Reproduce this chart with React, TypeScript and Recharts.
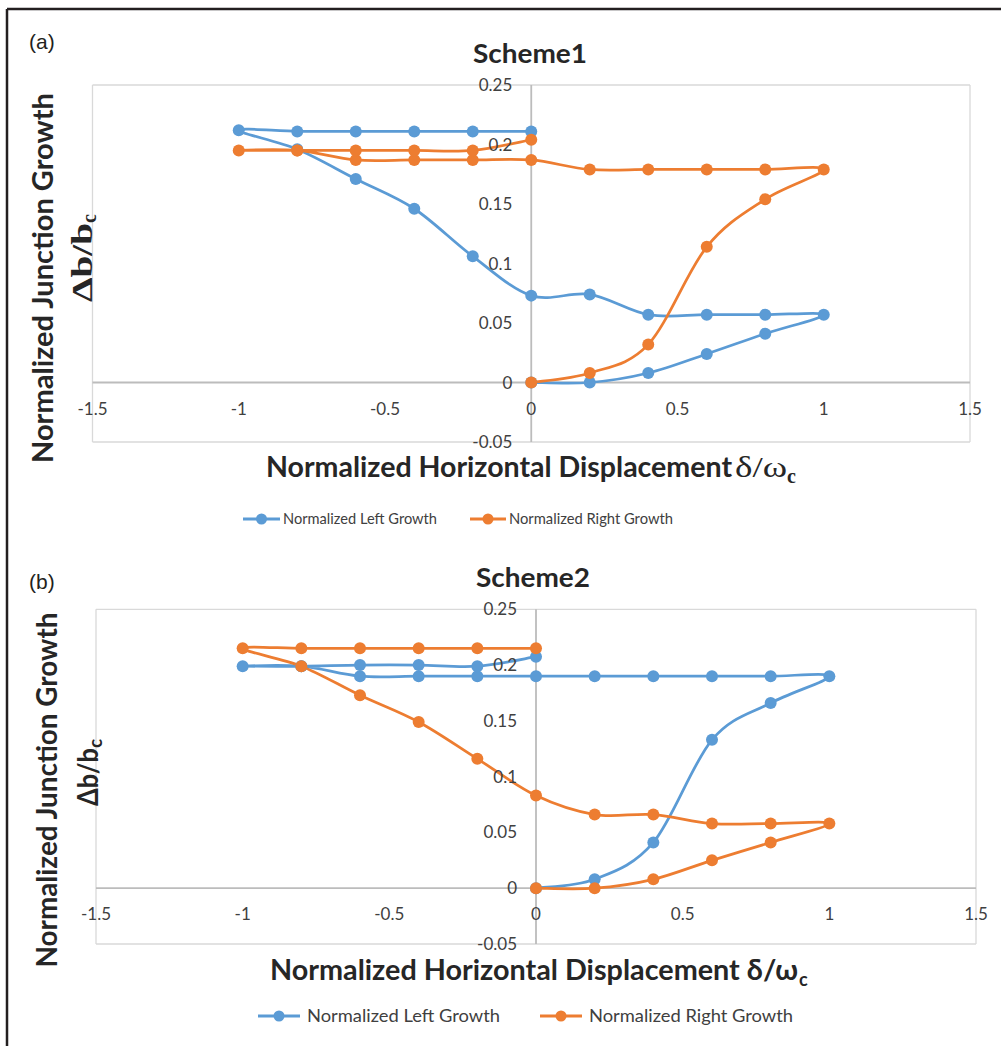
import React from 'react';
import {
  LineChart,
  Line,
  XAxis,
  YAxis,
  CartesianGrid,
  ReferenceLine,
  ReferenceDot,
  Legend,
} from 'recharts';

// ---------------- DATA ----------------
// loading path of the normalized horizontal displacement (0 -> 1 -> 0 -> -1 -> 0)
const displacement = [0, 0.2, 0.4, 0.6, 0.8, 1, 0.8, 0.6, 0.4, 0.2, 0, -0.2, -0.4, -0.6, -0.8, -1, -0.8, -0.6, -0.4, -0.2, 0];

const scheme1Left = [0, 0, 0.008, 0.024, 0.041, 0.057, 0.057, 0.057, 0.057, 0.074, 0.073, 0.106, 0.146, 0.171, 0.196, 0.212, 0.211, 0.211, 0.211, 0.211, 0.211];
const scheme1Right = [0, 0.008, 0.032, 0.114, 0.154, 0.179, 0.179, 0.179, 0.179, 0.179, 0.187, 0.187, 0.187, 0.187, 0.195, 0.195, 0.195, 0.195, 0.195, 0.195, 0.204];

const scheme2Left = [0, 0.008, 0.041, 0.133, 0.166, 0.19, 0.19, 0.19, 0.19, 0.19, 0.19, 0.19, 0.19, 0.19, 0.199, 0.199, 0.199, 0.2, 0.2, 0.199, 0.2075];
const scheme2Right = [0, 0, 0.008, 0.025, 0.041, 0.058, 0.058, 0.058, 0.066, 0.066, 0.083, 0.116, 0.149, 0.173, 0.199, 0.215, 0.215, 0.215, 0.215, 0.215, 0.215];

const xTicks = [-1.5, -1, -0.5, 0, 0.5, 1, 1.5];
const xTickLabels = ['-1.5', '-1', '-0.5', '0', '0.5', '1', '1.5'];
const yTicks = [-0.05, 0, 0.05, 0.1, 0.15, 0.2, 0.25];
const yTickLabels = ['-0.05', '0', '0.05', '0.1', '0.15', '0.2', '0.25'];

const seriesNames = ['Normalized Left Growth', 'Normalized Right Growth'];
const seriesColors = ['#5B9BD5', '#ED7D31'];
const titles = ['Scheme1', 'Scheme2'];
const panelTags = ['(a)', '(b)'];

const toPoints = (ys: number[]) => displacement.map((x, i) => ({ x, y: ys[i] }));

// ---------------- STYLE ----------------
const SANS = "Lato, 'Open Sans', 'Noto Sans', sans-serif";
const SERIF = "'Liberation Serif', 'DejaVu Serif', serif";
const TEXT = '#262626';
const TICK = '#404040';

// Excel-like smooth line (Catmull-Rom style bezier), works for non-monotonic paths
function excelSmooth(context: any) {
  let pts: number[][] = [];
  return {
    areaStart() {},
    areaEnd() {},
    lineStart() {
      pts = [];
    },
    point(x: number, y: number) {
      pts.push([+x, +y]);
    },
    lineEnd() {
      const n = pts.length;
      if (!n) return;
      context.moveTo(pts[0][0], pts[0][1]);
      const t = 1 / 6;
      for (let i = 0; i < n - 1; i++) {
        const p0 = pts[Math.max(0, i - 1)];
        const p1 = pts[i];
        const p2 = pts[i + 1];
        const p3 = pts[Math.min(n - 1, i + 2)];
        context.bezierCurveTo(
          p1[0] + (p2[0] - p0[0]) * t,
          p1[1] + (p2[1] - p0[1]) * t,
          p2[0] - (p3[0] - p1[0]) * t,
          p2[1] - (p3[1] - p1[1]) * t,
          p2[0],
          p2[1]
        );
      }
    },
  };
}

type LegendItem = { x0: number; len: number; tx: number; tl: number };

const makeLegend = (items: LegendItem[], fontSize: number) => (props: any) => {
  const payload = props.payload || [];
  return (
    <svg width={1001} height={30} style={{ display: 'block', overflow: 'visible' }}>
      {payload.map((p: any, i: number) => {
        const it = items[i];
        if (!it) return null;
        return (
          <g key={i}>
            <line x1={it.x0} x2={it.x0 + it.len} y1={15} y2={15} stroke={p.color} strokeWidth={3} />
            <circle cx={it.x0 + it.len / 2} cy={15} r={5.5} fill={p.color} />
            <text
              x={it.tx}
              y={15}
              dy="0.36em"
              fontSize={fontSize}
              fontFamily={SANS}
              fill="#404040"
              textLength={it.tl}
              lengthAdjust="spacingAndGlyphs"
            >
              {p.value}
            </text>
          </g>
        );
      })}
    </svg>
  );
};

type PanelProps = {
  top: number;
  height: number;
  margin: { top: number; right: number; bottom: number; left: number };
  left: number[];
  right: number[];
  legendTop: number;
  legendItems: LegendItem[];
  legendFont: number;
};

function Panel(p: PanelProps) {
  const leftData = toPoints(p.left);
  const rightData = toPoints(p.right);
  return (
    <div style={{ position: 'absolute', left: 0, top: p.top, width: 1001, height: p.height }}>
      <LineChart width={1001} height={p.height} margin={p.margin}>
        <CartesianGrid stroke="#d9d9d9" strokeWidth={1.3} />
        <XAxis
          type="number"
          dataKey="x"
          domain={[-1.5, 1.5]}
          ticks={xTicks}
          allowDataOverflow
          tick={false}
          tickLine={false}
          axisLine={false}
          height={0}
        />
        <YAxis
          type="number"
          dataKey="y"
          domain={[-0.05, 0.25]}
          ticks={yTicks}
          allowDataOverflow
          tick={false}
          tickLine={false}
          axisLine={false}
          width={0}
        />
        <ReferenceLine x={0} stroke="#bcbcbc" strokeWidth={1.8} />
        <ReferenceLine y={0} stroke="#bcbcbc" strokeWidth={1.8} />
        {yTicks.map((v, i) => (
          <ReferenceDot
            key={'y' + i}
            x={0}
            y={v}
            r={0}
            fill="none"
            stroke="none"
            label={{ value: yTickLabels[i], position: 'left', offset: 19, fill: TICK, fontSize: 17, fontFamily: SANS }}
          />
        ))}
        {xTicks.map((v, i) => (
          <ReferenceDot
            key={'x' + i}
            x={v}
            y={0}
            r={0}
            fill="none"
            stroke="none"
            label={{ value: xTickLabels[i], position: 'bottom', offset: 20, fill: TICK, fontSize: 17, fontFamily: SANS }}
          />
        ))}
        <Line
          data={leftData}
          dataKey="y"
          name={seriesNames[0]}
          type={excelSmooth as any}
          stroke={seriesColors[0]}
          strokeWidth={2.75}
          dot={{ r: 6, fill: seriesColors[0], stroke: seriesColors[0], strokeWidth: 0 }}
          isAnimationActive={false}
        />
        <Line
          data={rightData}
          dataKey="y"
          name={seriesNames[1]}
          type={excelSmooth as any}
          stroke={seriesColors[1]}
          strokeWidth={2.75}
          dot={{ r: 6, fill: seriesColors[1], stroke: seriesColors[1], strokeWidth: 0 }}
          isAnimationActive={false}
        />
        <Legend
          layout="vertical"
          align="center"
          verticalAlign="middle"
          wrapperStyle={{ position: 'absolute', left: 0, top: p.legendTop, width: 1001, height: 30 }}
          content={makeLegend(p.legendItems, p.legendFont)}
        />
      </LineChart>
    </div>
  );
}

export default function App() {
  return (
    <div
      style={{
        position: 'absolute',
        left: 0,
        top: 0,
        width: 1001,
        height: 1046,
        overflow: 'hidden',
        background: '#ffffff',
      }}
    >
      <Panel
        top={0}
        height={540}
        margin={{ top: 85, right: 31, bottom: 98, left: 92.5 }}
        left={scheme1Left}
        right={scheme1Right}
        legendTop={504}
        legendFont={15}
        legendItems={[
          { x0: 243, len: 37, tx: 283, tl: 154 },
          { x0: 470, len: 36, tx: 509, tl: 164 },
        ]}
      />
      <Panel
        top={540}
        height={506}
        margin={{ top: 69.3, right: 25, bottom: 102, left: 96 }}
        left={scheme2Left}
        right={scheme2Right}
        legendTop={461}
        legendFont={17}
        legendItems={[
          { x0: 258, len: 42, tx: 307, tl: 193 },
          { x0: 540, len: 42, tx: 589, tl: 204 },
        ]}
      />
      <svg
        width={1001}
        height={1046}
        style={{ position: 'absolute', left: 0, top: 0, pointerEvents: 'none' }}
      >
        {/* frame */}
        <line x1={7} y1={9} x2={1001} y2={9} stroke="#231f20" strokeWidth={2.5} />
        <line x1={7} y1={9} x2={7} y2={1046} stroke="#231f20" strokeWidth={2.5} />

        {/* ---- panel (a) ---- */}
        <text x={29} y={49} fontSize={21} fontFamily="'Liberation Sans', Arial, sans-serif" fill="#231f20">
          {panelTags[0]}
        </text>
        <text
          x={530}
          y={63}
          textAnchor="middle"
          fontSize={27}
          fontWeight={700}
          fontFamily={SANS}
          fill={TEXT}
          textLength={114}
          lengthAdjust="spacingAndGlyphs"
        >
          {titles[0]}
        </text>
        <text
          x={53}
          y={278}
          transform="rotate(-90 53 278)"
          textAnchor="middle"
          fontSize={28}
          fontWeight={700}
          fontFamily={SANS}
          fill={TEXT}
          textLength={370}
          lengthAdjust="spacingAndGlyphs"
        >
          Normalized Junction Growth
        </text>
        <text transform="translate(92,302) rotate(-90)" fontFamily={SERIF} fontWeight={700} fontSize={30} fill={TEXT}>
          <tspan textLength={79} lengthAdjust="spacingAndGlyphs">Δb/b</tspan>
          <tspan dy={3.5} fontSize={20}>c</tspan>
        </text>
        <text
          x={266}
          y={477}
          fontSize={28}
          fontWeight={700}
          fontFamily={SANS}
          fill={TEXT}
          textLength={466}
          lengthAdjust="spacingAndGlyphs"
        >
          Normalized Horizontal Displacement
        </text>
        <text x={735} y={477} fontSize={30} fontFamily={SERIF} fill={TEXT} textLength={52} lengthAdjust="spacingAndGlyphs">
          δ/ω
        </text>
        <text x={787} y={483} fontSize={20} fontWeight={700} fontFamily={SERIF} fill={TEXT}>
          c
        </text>

        {/* ---- panel (b) ---- */}
        <text x={29} y={589} fontSize={21} fontFamily="'Liberation Sans', Arial, sans-serif" fill="#231f20">
          {panelTags[1]}
        </text>
        <text
          x={533}
          y={587}
          textAnchor="middle"
          fontSize={27}
          fontWeight={700}
          fontFamily={SANS}
          fill={TEXT}
          textLength={114}
          lengthAdjust="spacingAndGlyphs"
        >
          {titles[1]}
        </text>
        <text
          x={57}
          y={790}
          transform="rotate(-90 57 790)"
          textAnchor="middle"
          fontSize={28}
          fontWeight={700}
          fontFamily={SANS}
          fill={TEXT}
          textLength={355}
          lengthAdjust="spacingAndGlyphs"
        >
          Normalized Junction Growth
        </text>
        <text transform="translate(98,806) rotate(-90)" fontFamily={SANS} fontWeight={700} fontSize={28} fill={TEXT}>
          <tspan textLength={58} lengthAdjust="spacingAndGlyphs">Δb/b</tspan>
          <tspan dy={4} fontSize={19}>c</tspan>
        </text>
        <text
          x={270}
          y={980}
          fontSize={28}
          fontWeight={700}
          fontFamily={SANS}
          fill={TEXT}
          textLength={528}
          lengthAdjust="spacingAndGlyphs"
        >
          Normalized Horizontal Displacement δ/ω
        </text>
        <text x={799} y={986} fontSize={18} fontWeight={700} fontFamily={SANS} fill={TEXT}>
          c
        </text>
      </svg>
    </div>
  );
}
